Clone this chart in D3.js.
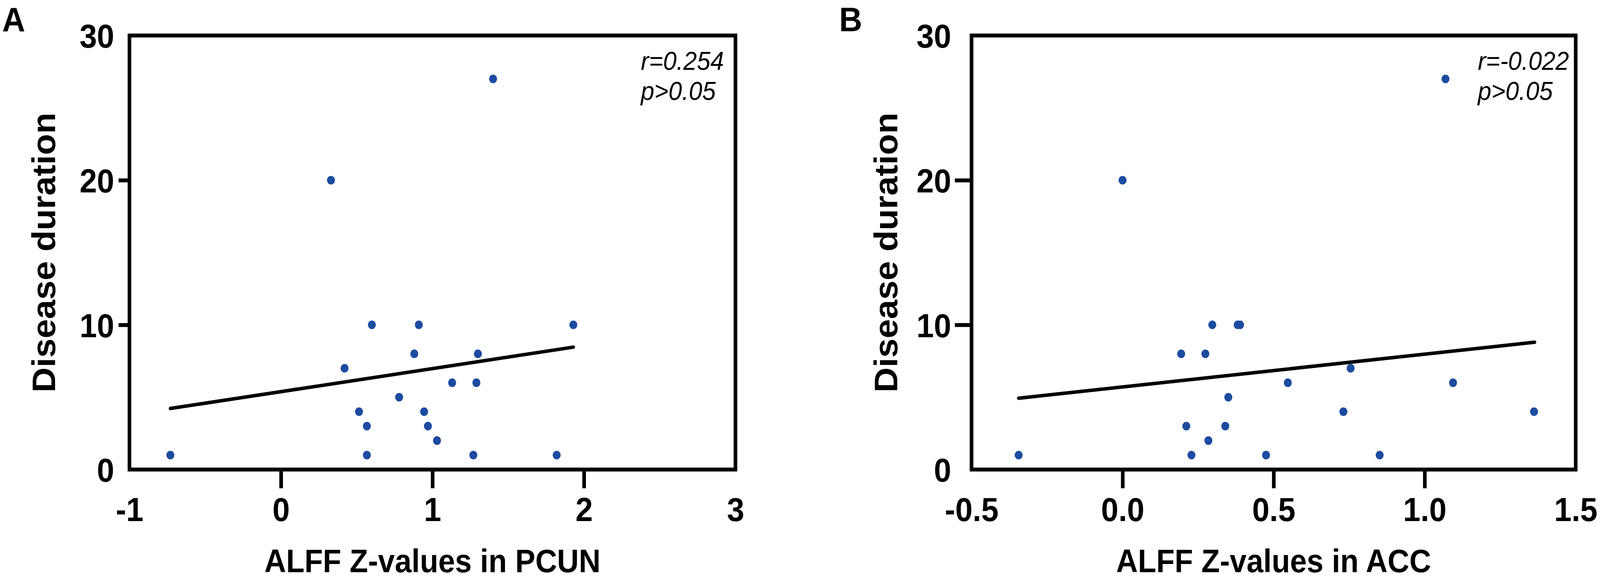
<!DOCTYPE html>
<html>
<head>
<meta charset="utf-8">
<script src="https://cdn.jsdelivr.net/npm/d3@7"></script>
<style>
  html, body { margin: 0; padding: 0; width: 100%; height: 100%; background: #fff; overflow: hidden; }
  svg { display: block; width: 100vw; height: 100vh; }
  text { font-family: "Liberation Sans", Arial, sans-serif; fill: #000; }
</style>
</head>
<body>
<svg id="chart" viewBox="0 0 4412 1486" preserveAspectRatio="none"></svg>
<script>
// panel A: ALFF Z-values in PCUN vs disease duration
const xA = [-0.73, 0.33, 1.40, 0.60, 0.91, 1.93, 0.88, 1.30, 0.42, 1.13, 1.29, 0.78, 0.515, 0.945, 0.567, 0.97, 1.03, 0.567, 1.27, 1.82];
const yA = [1, 20, 27, 10, 10, 10, 8, 8, 7, 6, 6, 5, 4, 4, 3, 3, 2, 1, 1, 1];
const fitA = [[-0.73, 4.22], [1.93, 8.46]];
const xTicksA = [-1, 0, 1, 2, 3];
const xLabelsA = ["-1", "0", "1", "2", "3"];

// panel B: ALFF Z-values in ACC vs disease duration
const xB = [-0.344, 0.0, 1.069, 0.297, 0.381, 0.389, 0.194, 0.274, 0.755, 0.547, 1.094, 0.35, 0.731, 1.362, 0.211, 0.34, 0.284, 0.228, 0.475, 0.851];
const yB = [1, 20, 27, 10, 10, 10, 8, 8, 7, 6, 6, 5, 4, 4, 3, 3, 2, 1, 1, 1];
const fitB = [[-0.344, 4.93], [1.364, 8.80]];
const xTicksB = [-0.5, 0, 0.5, 1, 1.5];
const xLabelsB = ["-0.5", "0.0", "0.5", "1.0", "1.5"];

const yTicks = [0, 10, 20, 30];
const yLabels = ["0", "10", "20", "30"];

const svg = d3.select("#chart");
const dotColor = "#1c4ba0";

function drawPanel(opts) {
    var x = d3.scaleLinear().domain(opts.xDomain).range([opts.left, opts.right]);
    var y = d3.scaleLinear().domain([0, 30]).range([1203, 91]);

    var g = svg.append("g").attr("class", "panel");

    // x axis ticks + labels
    var xAxis = d3.axisBottom(x)
        .tickValues(opts.xTicks)
        .tickSize(48)
        .tickFormat((d, i) => opts.xLabels[i]);
    var gx = g.append("g")
        .attr("transform", "translate(0," + y(0) + ")")
        .call(xAxis);
    gx.select(".domain").remove();
    gx.selectAll(".tick line")
        .attr("stroke", "#000")
        .attr("stroke-width", 10)
        .style("display", (d, i) => (i === 0 || i === opts.xTicks.length - 1) ? "none" : null);
    gx.selectAll(".tick text")
        .attr("y", 132)
        .attr("dy", 0)
        .style("font-size", "86px")
        .style("font-weight", "bold");

    // y axis ticks + labels
    var yAxis = d3.axisLeft(y)
        .tickValues(yTicks)
        .tickSize(opts.yTick)
        .tickFormat((d, i) => yLabels[i]);
    var gy = g.append("g")
        .attr("transform", "translate(" + x(opts.xDomain[0]) + ",0)")
        .call(yAxis);
    gy.select(".domain").remove();
    gy.selectAll(".tick line")
        .attr("stroke", "#000")
        .attr("stroke-width", 10)
        .style("display", (d, i) => (i === 0 || i === yTicks.length - 1) ? "none" : null);
    gy.selectAll(".tick text")
        .attr("x", -opts.yLabelGap)
        .attr("dy", "0.36em")
        .style("font-size", "86px")
        .style("font-weight", "bold");

    // frame box
    g.append("rect")
        .attr("x", x(opts.xDomain[0]))
        .attr("y", y(30))
        .attr("width", x(opts.xDomain[1]) - x(opts.xDomain[0]))
        .attr("height", y(0) - y(30))
        .attr("fill", "none")
        .attr("stroke", "#000")
        .attr("stroke-width", 10);

    // regression line
    g.append("line")
        .attr("x1", x(opts.fit[0][0]))
        .attr("y1", y(opts.fit[0][1]))
        .attr("x2", x(opts.fit[1][0]))
        .attr("y2", y(opts.fit[1][1]))
        .attr("stroke", "#000")
        .attr("stroke-width", 9)
        .attr("stroke-linecap", "round");

    // dots
    g.selectAll(".dot")
        .data(opts.xs.map((v, i) => ({x: v, y: opts.ys[i]})))
        .enter().append("circle")
        .attr("class", "dot")
        .attr("r", 11)
        .attr("cx", d => x(d.x))
        .attr("cy", d => y(d.y))
        .attr("fill", dotColor);

    // x title
    g.append("text")
        .attr("x", (opts.left + opts.right) / 2)
        .attr("y", 1466)
        .style("text-anchor", "middle")
        .style("font-size", "83px")
        .style("font-weight", "bold")
        .text(opts.xTitle);

    // y title
    g.append("text")
        .attr("transform", "translate(" + (opts.left - 205) + "," + (y(15)) + ") rotate(-90)")
        .style("text-anchor", "middle")
        .style("font-size", "89px")
        .style("font-weight", "bold")
        .text("Disease duration");

    // stats
    var st = g.append("text")
        .attr("x", opts.statX)
        .style("font-size", "67px")
        .style("font-style", "italic");
    st.append("tspan").attr("x", opts.statX).attr("y", 179).text(opts.rText);
    st.append("tspan").attr("x", opts.statX).attr("y", 256).text("p>0.05");

    // panel letter
    g.append("text")
        .attr("x", opts.letterX)
        .attr("y", 80)
        .style("font-size", "88px")
        .style("font-weight", "bold")
        .text(opts.letter);
}

drawPanel({
    letter: "A", letterX: 6,
    xs: xA, ys: yA, fit: fitA,
    xDomain: [-1, 3], left: 357, right: 2028,
    xTicks: xTicksA, xLabels: xLabelsA,
    yTick: 30, yLabelGap: 42,
    xTitle: "ALFF Z-values in PCUN",
    rText: "r=0.254", statX: 1767
});

drawPanel({
    letter: "B", letterX: 2314,
    xs: xB, ys: yB, fit: fitB,
    xDomain: [-0.5, 1.5], left: 2679, right: 4345,
    xTicks: xTicksB, xLabels: xLabelsB,
    yTick: 46, yLabelGap: 56,
    xTitle: "ALFF Z-values in ACC",
    rText: "r=-0.022", statX: 4075
});
</script>
</body>
</html>
